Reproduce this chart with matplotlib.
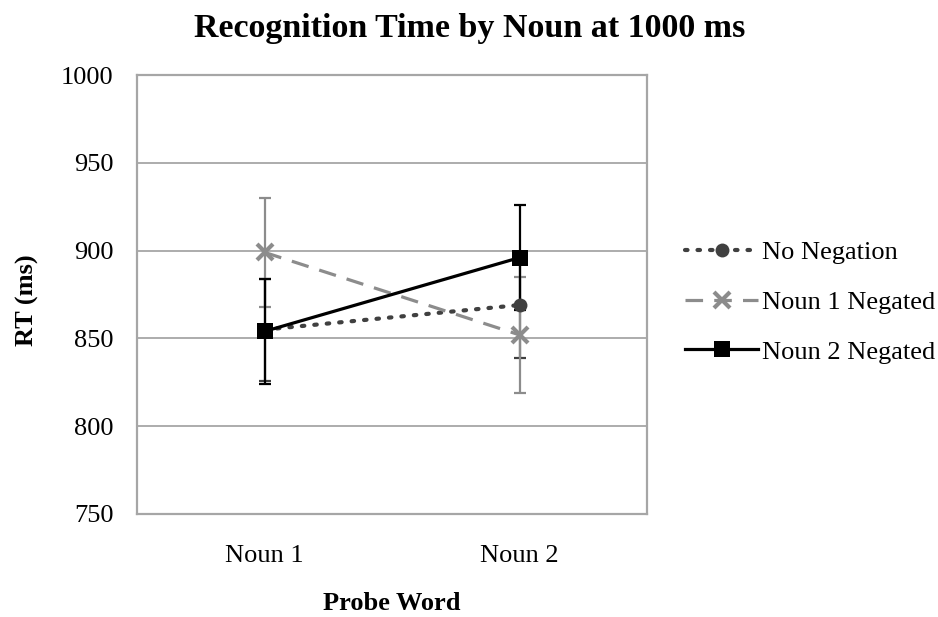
import matplotlib
matplotlib.use("Agg")
import matplotlib.pyplot as plt

# Data
categories = ["Noun 1", "Noun 2"]
series_names = ["No Negation", "Noun 1 Negated", "Noun 2 Negated"]
no_negation = [855, 869]
no_negation_err = [29, 30]
noun1_negated = [899, 852]
noun1_negated_err = [31, 33]
noun2_negated = [854, 896]
noun2_negated_err = [30, 30]
y_ticks = [750, 800, 850, 900, 950, 1000]

plt.rcParams['font.family'] = ['Liberation Serif', 'DejaVu Serif']

fig = plt.figure(figsize=(9.38, 6.17), dpi=100)
ax = fig.add_axes([137 / 938, 1 - 514 / 617, 510 / 938, 439 / 617])

x = list(range(len(categories)))

styles = [
    dict(color='#404040', ls=(0, (0.6, 2.4)), marker='o', ms=10, mew=0, lw=3.0,
         dash_capstyle='round'),
    dict(color='#8c8c8c', ls=(0, (5.5, 3.5)), marker='x', ms=11, mew=3, lw=2.3),
    dict(color='black', ls='-', marker='s', ms=11, mew=0, lw=2.3),
]
values = [no_negation, noun1_negated, noun2_negated]
errors = [no_negation_err, noun1_negated_err, noun2_negated_err]

for name, vals, errs, st in zip(series_names, values, errors, styles):
    ax.errorbar(x, vals, yerr=errs, fmt='none', ecolor=st['color'],
                elinewidth=1.6, capsize=4.3, capthick=1.6, zorder=3)
    ax.plot(x, vals, label=name, zorder=4, **st)

ax.set_xlim(-0.5, 1.5)
ax.set_ylim(750, 1000)
ax.set_yticks(y_ticks)
ax.set_xticks(x)
ax.set_xticklabels(categories)
ax.tick_params(axis='both', length=0, labelsize=19)
ax.tick_params(axis='y', pad=17)
ax.tick_params(axis='x', pad=22)
ax.yaxis.grid(True, color='#a6a6a6', lw=1.3)
ax.set_axisbelow(True)
for sp in ax.spines.values():
    sp.set_color('#a6a6a6')
    sp.set_linewidth(1.6)

fig.text(470 / 938, 1 - 28 / 617, "Recognition Time by Noun at 1000 ms",
         ha='center', va='center', fontsize=24.5, fontweight='bold')
fig.text(27 / 938, 1 - 300 / 617, "RT (ms)", rotation=90, ha='center',
         va='center', fontsize=19, fontweight='bold')
fig.text(392 / 938, 2 / 617, "Probe Word", ha='center', va='bottom',
         fontsize=19, fontweight='bold')

ax.legend(loc='center left', bbox_to_anchor=(674 / 938, 1 - 302 / 617),
          bbox_transform=fig.transFigure, frameon=False, fontsize=19,
          handlelength=2.8, handletextpad=0.15, labelspacing=1.0,
          borderaxespad=0)

fig.savefig("out.png", dpi=100)
